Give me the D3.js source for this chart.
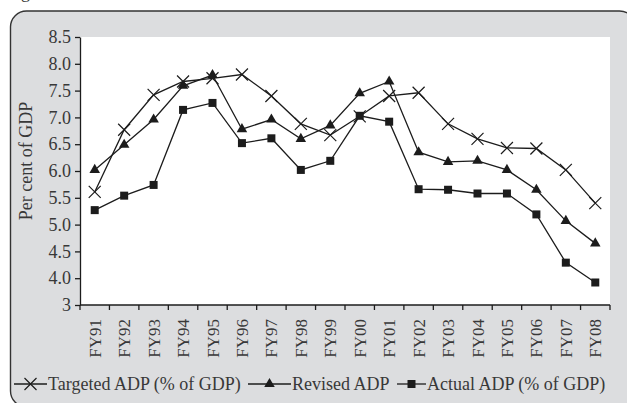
<!DOCTYPE html>
<html>
<head>
<meta charset="utf-8">
<script src="https://cdn.jsdelivr.net/npm/d3@7/dist/d3.min.js"></script>
<style>
  html, body { margin: 0; padding: 0; background: #ffffff; }
  svg { display: block; }
  text { font-family: "Liberation Serif", "DejaVu Serif", serif; fill: #383838; }
</style>
</head>
<body>
<svg id="chart" width="627" height="403"></svg>
<script>
// Fiscal years on the category axis
const years = ["FY91","FY92","FY93","FY94","FY95","FY96","FY97","FY98","FY99",
               "FY00","FY01","FY02","FY03","FY04","FY05","FY06","FY07","FY08"];

// ADP as percent of GDP
const targeted = [5.61, 6.77, 7.42, 7.67, 7.73, 7.80, 7.40, 6.88, 6.67,
                  7.02, 7.40, 7.46, 6.88, 6.60, 6.43, 6.42, 6.02, 5.40];
const revised  = [6.02, 6.49, 6.96, 7.59, 7.79, 6.78, 6.96, 6.60, 6.85,
                  7.45, 7.67, 6.35, 6.17, 6.19, 6.02, 5.65, 5.07, 4.65];
const actual   = [5.27, 5.54, 5.74, 7.14, 7.27, 6.52, 6.61, 6.02, 6.19,
                  7.03, 6.92, 5.66, 5.65, 5.58, 5.58, 5.19, 4.29, 3.92];

// Value axis ticks and their printed labels
const yTicks      = [3.5, 4.0, 4.5, 5.0, 5.5, 6.0, 6.5, 7.0, 7.5, 8.0, 8.5];
const yTickLabels = ["3", "4.0", "4.5", "5.0", "5.5", "6.0", "6.5", "7.0", "7.5", "8.0", "8.5"];

const seriesNames = ["Targeted ADP (% of GDP)", "Revised ADP", "Actual ADP (% of GDP)"];

const svg = d3.select("#chart");
const ink = "#1c1c1c";

// Rounded grey frame (runs off the right and bottom edges)
svg.append("rect")
  .attr("x", 10.5).attr("y", 11)
  .attr("width", 625).attr("height", 396)
  .attr("rx", 16).attr("ry", 16)
  .attr("fill", "#dcdddf")
  .attr("stroke", "#333").attr("stroke-width", 1.4);

// Caption fragment above the frame
svg.append("text")
  .attr("x", 6).attr("y", -2)
  .style("font-size", "18px")
  .text("Figure");

const plot = { left: 80, right: 610, top: 37, bottom: 305 };

svg.append("rect")
  .attr("x", plot.left).attr("y", plot.top)
  .attr("width", plot.right - plot.left).attr("height", plot.bottom - plot.top)
  .attr("fill", "#ffffff");

const x = d3.scaleBand().domain(years).range([plot.left, plot.right]);
const cx = d => x(d) + x.bandwidth() / 2;
const y = d3.scaleLinear().domain([3.5, 8.5]).range([plot.bottom, plot.top]);

// Y axis
const yAxis = svg.append("g")
  .attr("transform", `translate(${plot.left},0)`)
  .call(d3.axisLeft(y).tickValues(yTicks)
          .tickFormat((d, i) => yTickLabels[i])
          .tickSize(5).tickSizeOuter(0).tickPadding(4));
yAxis.select(".domain").attr("stroke", ink).attr("stroke-width", 1.3);
yAxis.selectAll(".tick line").attr("stroke", ink).attr("stroke-width", 1.3);
yAxis.selectAll(".tick text")
  .attr("fill", "#383838")
  .style("font-family", "'Liberation Serif', serif")
  .style("font-size", "18px");

// X axis: line, boundary ticks, rotated labels
const xAxis = svg.append("g");
xAxis.append("line")
  .attr("x1", plot.left).attr("x2", plot.right)
  .attr("y1", plot.bottom).attr("y2", plot.bottom)
  .attr("stroke", ink).attr("stroke-width", 1.3);
const bounds = years.map(d => x(d)).concat([x.range()[1]]);
xAxis.selectAll("line.tk").data(bounds).join("line")
  .attr("class", "tk")
  .attr("x1", d => d).attr("x2", d => d)
  .attr("y1", plot.bottom).attr("y2", plot.bottom + 5)
  .attr("stroke", ink).attr("stroke-width", 1.3);
xAxis.selectAll("text").data(years).join("text")
  .attr("transform", d => `translate(${cx(d) + 6},${plot.bottom + 14}) rotate(-90)`)
  .attr("text-anchor", "end")
  .style("font-size", "17px")
  .text(d => d);

// Y axis title
svg.append("text")
  .attr("transform", `translate(32,${(plot.top + plot.bottom) / 2 - 10}) rotate(-90)`)
  .attr("text-anchor", "middle")
  .style("font-size", "18px")
  .text("Per cent of GDP");

// Marker painters
function crossMark(g, px, py, r) {
  g.append("path")
    .attr("d", `M${px - r},${py - r}L${px + r},${py + r}M${px - r},${py + r}L${px + r},${py - r}`)
    .attr("stroke", ink).attr("stroke-width", 1.2).attr("fill", "none");
}
function triMark(g, px, py) {
  g.append("path")
    .attr("d", d3.symbol(d3.symbolTriangle, 48)())
    .attr("transform", `translate(${px},${py})`)
    .attr("fill", ink);
}
function sqMark(g, px, py) {
  g.append("rect")
    .attr("x", px - 4).attr("y", py - 4)
    .attr("width", 8).attr("height", 8)
    .attr("fill", ink);
}

const line = d3.line().x((v, i) => cx(years[i])).y(v => y(v));
const seriesList = [
  { values: targeted, mark: (g, px, py) => crossMark(g, px, py, 6) },
  { values: revised,  mark: triMark },
  { values: actual,   mark: sqMark }
];

seriesList.forEach(s => {
  const g = svg.append("g");
  g.append("path")
    .attr("d", line(s.values))
    .attr("fill", "none")
    .attr("stroke", ink).attr("stroke-width", 1.3);
  s.values.forEach((v, i) => s.mark(g, cx(years[i]), y(v)));
});

// Legend
const legendY = 384;
const legendX = [14, 248, 397];
const legendLen = [33, 43, 29];
seriesNames.forEach((name, i) => {
  const g = svg.append("g");
  const x0 = legendX[i], x1 = legendX[i] + legendLen[i];
  g.append("line")
    .attr("x1", x0).attr("x2", x1)
    .attr("y1", legendY).attr("y2", legendY)
    .attr("stroke", ink).attr("stroke-width", 1.3);
  seriesList[i].mark(g, (x0 + x1) / 2, legendY, 5);
  g.append("text")
    .attr("x", x1 + 1).attr("y", legendY + 6)
    .style("font-size", "18px")
    .text(name);
});
</script>
</body>
</html>
